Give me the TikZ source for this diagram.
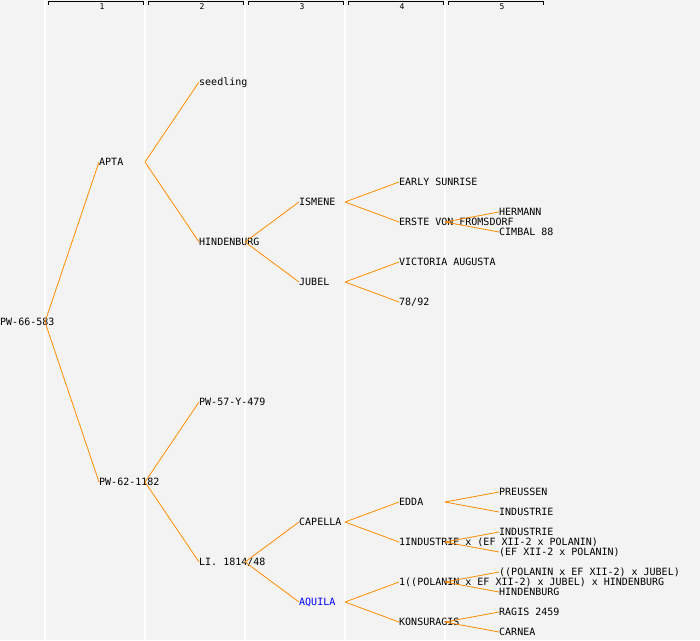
\documentclass[tikz,border=0pt]{standalone}
\usepackage{fontspec}
\setmonofont{DejaVu Sans Mono}
\definecolor{pagegray}{RGB}{243,243,243}
\definecolor{linkorange}{RGB}{255,140,0}
\definecolor{markblue}{RGB}{0,0,255}

\begin{document}
\begin{tikzpicture}[x=1pt,y=-1pt,
    entry/.style={anchor=west,inner sep=0pt,text height=7.3pt,text depth=0pt,
      font=\ttfamily\fontsize{10}{12}\selectfont},
    link/.style={draw=linkorange,line width=0.8pt},
    colhead/.style={inner sep=0pt,font=\ttfamily\fontsize{8}{9}\selectfont},
    colline/.style={draw=white,line width=1.2pt}]
  \fill[pagegray] (0,0) rectangle (700,640);
  \useasboundingbox (0,0) rectangle (700,640);
  % column separators
  \draw[colline] (45,0) -- (45,640);
  \draw[colline] (145,0) -- (145,640);
  \draw[colline] (245,0) -- (245,640);
  \draw[colline] (345,0) -- (345,640);
  \draw[colline] (445,0) -- (445,640);
  % generation headers
  \draw[line width=0.8pt] (48,4.5) -- (48,1.5) -- (143,1.5) -- (143,4.5);
  \draw[line width=0.8pt] (148,4.5) -- (148,1.5) -- (243,1.5) -- (243,4.5);
  \draw[line width=0.8pt] (248,4.5) -- (248,1.5) -- (343,1.5) -- (343,4.5);
  \draw[line width=0.8pt] (348,4.5) -- (348,1.5) -- (443,1.5) -- (443,4.5);
  \draw[line width=0.8pt] (448,4.5) -- (448,1.5) -- (543,1.5) -- (543,4.5);
  \node[colhead] (h1) at (102,6.5) {1};
  \node[colhead] (h2) at (202,6.5) {2};
  \node[colhead] (h3) at (302,6.5) {3};
  \node[colhead] (h4) at (402,6.5) {4};
  \node[colhead] (h5) at (502,6.5) {5};
  % generation 1
  \node[entry] (pw66) at (0,322) {PW-66-583};
  % generation 2
  \node[entry] (apta) at (99,162) {APTA};
  \node[entry] (pw62) at (99,482) {PW-62-1182};
  % generation 3
  \node[entry] (seed) at (199,82) {seedling};
  \node[entry] (hind) at (199,242) {HINDENBURG};
  \node[entry] (pw57) at (199,402) {PW-57-Y-479};
  \node[entry] (li) at (199,562) {LI. 1814/48};
  % generation 4
  \node[entry] (ismene) at (299,202) {ISMENE};
  \node[entry] (jubel) at (299,282) {JUBEL};
  \node[entry] (capella) at (299,522) {CAPELLA};
  \node[entry,text=markblue] (aquila) at (299,602) {AQUILA};
  % generation 5
  \node[entry] (early) at (399,182) {EARLY SUNRISE};
  \node[entry] (erste) at (399,222) {ERSTE VON FROMSDORF};
  \node[entry] (victoria) at (399,262) {VICTORIA AUGUSTA};
  \node[entry] (n7892) at (399,302) {78/92};
  \node[entry] (edda) at (399,502) {EDDA};
  \node[entry] (ind1) at (399,542) {1INDUSTRIE x (EF XII-2 x POLANIN)};
  \node[entry] (pol1) at (399,582) {1((POLANIN x EF XII-2) x JUBEL) x HINDENBURG};
  \node[entry] (kons) at (399,622) {KONSURAGIS};
  % generation 6
  \node[entry] (herm) at (499,212) {HERMANN};
  \node[entry] (cimb) at (499,232) {CIMBAL 88};
  \node[entry] (preu) at (499,492) {PREUSSEN};
  \node[entry] (indA) at (499,512) {INDUSTRIE};
  \node[entry] (indB) at (499,532) {INDUSTRIE};
  \node[entry] (ef) at (499,552) {(EF XII-2 x POLANIN)};
  \node[entry] (polj) at (499,572) {((POLANIN x EF XII-2) x JUBEL)};
  \node[entry] (hindB) at (499,592) {HINDENBURG};
  \node[entry] (ragis) at (499,612) {RAGIS 2459};
  \node[entry] (carnea) at (499,632) {CARNEA};
  % parent links
  \draw[link] ([xshift=45pt]pw66.west) -- (apta.west);
  \draw[link] ([xshift=45pt]pw66.west) -- (pw62.west);
  \draw[link] ([xshift=46pt]apta.west) -- (seed.west);
  \draw[link] ([xshift=46pt]apta.west) -- (hind.west);
  \draw[link] ([xshift=46pt]pw62.west) -- (pw57.west);
  \draw[link] ([xshift=46pt]pw62.west) -- (li.west);
  \draw[link] ([xshift=46pt]hind.west) -- (ismene.west);
  \draw[link] ([xshift=46pt]hind.west) -- (jubel.west);
  \draw[link] ([xshift=46pt]li.west) -- (capella.west);
  \draw[link] ([xshift=46pt]li.west) -- (aquila.west);
  \draw[link] ([xshift=46pt]ismene.west) -- (early.west);
  \draw[link] ([xshift=46pt]ismene.west) -- (erste.west);
  \draw[link] ([xshift=46pt]jubel.west) -- (victoria.west);
  \draw[link] ([xshift=46pt]jubel.west) -- (n7892.west);
  \draw[link] ([xshift=46pt]capella.west) -- (edda.west);
  \draw[link] ([xshift=46pt]capella.west) -- (ind1.west);
  \draw[link] ([xshift=46pt]aquila.west) -- (pol1.west);
  \draw[link] ([xshift=46pt]aquila.west) -- (kons.west);
  \draw[link] ([xshift=46pt]erste.west) -- (herm.west);
  \draw[link] ([xshift=46pt]erste.west) -- (cimb.west);
  \draw[link] ([xshift=46pt]edda.west) -- (preu.west);
  \draw[link] ([xshift=46pt]edda.west) -- (indA.west);
  \draw[link] ([xshift=46pt]ind1.west) -- (indB.west);
  \draw[link] ([xshift=46pt]ind1.west) -- (ef.west);
  \draw[link] ([xshift=46pt]pol1.west) -- (polj.west);
  \draw[link] ([xshift=46pt]pol1.west) -- (hindB.west);
  \draw[link] ([xshift=46pt]kons.west) -- (ragis.west);
  \draw[link] ([xshift=46pt]kons.west) -- (carnea.west);
\end{tikzpicture}
\end{document}
